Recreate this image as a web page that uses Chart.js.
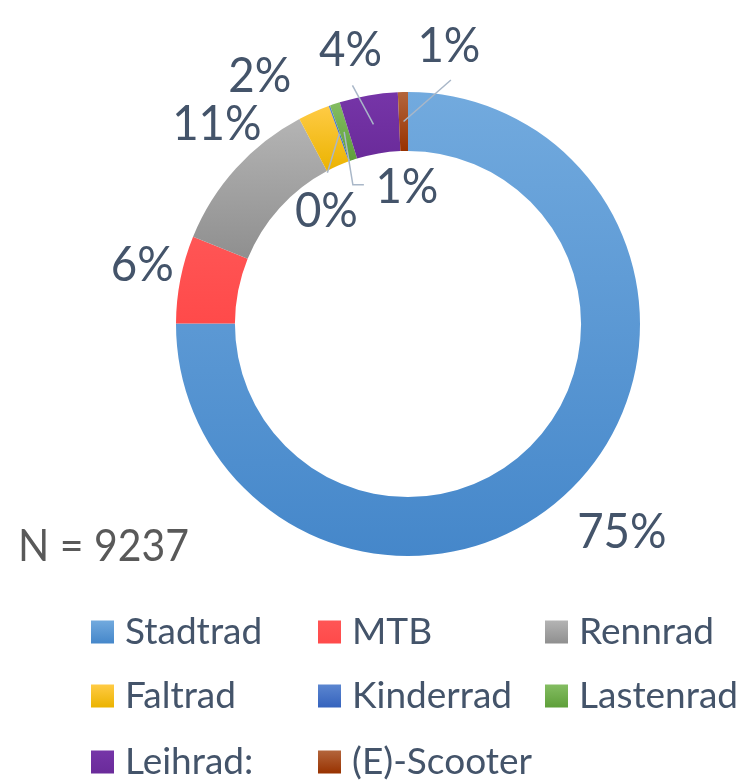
<!DOCTYPE html>
<html>
<head>
<meta charset="utf-8">
<script src="https://cdn.jsdelivr.net/npm/chart.js@4.4.1/dist/chart.umd.min.js"></script>
<style>
  html, body { margin: 0; padding: 0; background: #fff; }
  #wrap { width: 738px; height: 783px; position: relative; }
</style>
</head>
<body>
<div id="wrap"><canvas id="bikeChart" width="738" height="783"></canvas></div>
<script>
// Data
const categories = ['Stadtrad', 'MTB', 'Rennrad', 'Faltrad', 'Kinderrad', 'Lastenrad', 'Leihrad:', '(E)-Scooter'];
const shares = [75.0, 6.1, 11.1, 2.2, 0.1, 0.7, 4.05, 0.7];
const percentLabels = ['75%', '6%', '11%', '2%', '0%', '1%', '4%', '1%'];
const sampleNote = 'N = 9237';

// Office-like gradient colours (top -> bottom)
const topColors = ['#72aade', '#ff5555', '#b4b4b4', '#ffcb45', '#5b86d0', '#84bd62', '#7635a8', '#b3653c'];
const bottomColors = ['#4587ca', '#ff4a4a', '#8f8f8f', '#ebb300', '#3563bd', '#5e9f39', '#6a2b9a', '#983200'];

const TEXT_COLOR = '#44546a';
const LEADER_COLOR = '#a9b7c8';
const FONT = 'Lato, "Open Sans", sans-serif';
const CUTOUT = 0.746;

/**
 * Vertical gradient spanning the slice's own height
 */
function sliceGradient(context) {
  const chart = context.chart;
  const area = chart.chartArea;
  const i = context.dataIndex;
  if (!area) return bottomColors[i];

  const total = shares.reduce((a, b) => a + b, 0);
  let before = 0;
  for (let k = 0; k < i; k++) before += shares[k];
  const a0 = before / total * 2 * Math.PI;
  const a1 = (before + shares[i]) / total * 2 * Math.PI;

  const cy = (area.top + area.bottom) / 2;
  const R = Math.min(area.width, area.height) / 2;
  let yMin = Infinity, yMax = -Infinity;
  for (let s = 0; s <= 36; s++) {
    const a = a0 + (a1 - a0) * s / 36;
    [R, R * CUTOUT].forEach(r => {
      const y = cy - r * Math.cos(a);
      yMin = Math.min(yMin, y);
      yMax = Math.max(yMax, y);
    });
  }
  if (yMax - yMin < 2) yMax = yMin + 2;
  const g = chart.ctx.createLinearGradient(0, yMin, 0, yMax);
  g.addColorStop(0, topColors[i]);
  g.addColorStop(1, bottomColors[i]);
  return g;
}

// Draw text squeezed horizontally (Calibri is narrower than Lato)
function drawText(ctx, text, x, y, size, squeeze, align) {
  ctx.save();
  ctx.font = size + 'px ' + FONT;
  ctx.textAlign = align;
  ctx.textBaseline = 'middle';
  ctx.translate(x, y);
  ctx.scale(squeeze, 1);
  ctx.fillText(text, 0, 0);
  ctx.restore();
}

// Where each percent label sits, relative to the outer mid point of its slice
const labelOffsets = [[50, 44], [-38, -14], [-19, -44], [-54, -35], [-3, 106], [72, 84], [-18, -45], [46, -46]];
// Leader lines: start point relative to label centre, optional elbow
const leaders = {
  4: { from: [1, -39] },
  5: { from: [-43, -3], elbow: [-54, -3] },
  6: { from: [2, 35] },
  7: { from: [2, 34] }
};

/**
 * Percent labels with leader lines
 */
const sliceLabels = {
  id: 'sliceLabels',
  afterDatasetsDraw(chart) {
    const ctx = chart.ctx;
    const arcs = chart.getDatasetMeta(0).data;
    ctx.save();
    arcs.forEach((arc, i) => {
      const mid = (arc.startAngle + arc.endAngle) / 2;
      const ox = arc.x + arc.outerRadius * Math.cos(mid);
      const oy = arc.y + arc.outerRadius * Math.sin(mid);
      const ringR = (arc.outerRadius + arc.innerRadius) / 2;
      const rx = arc.x + ringR * Math.cos(mid);
      const ry = arc.y + ringR * Math.sin(mid);
      const lx = ox + labelOffsets[i][0];
      const ly = oy + labelOffsets[i][1];

      const leader = leaders[i];
      if (leader) {
        ctx.strokeStyle = LEADER_COLOR;
        ctx.lineWidth = 1.5;
        ctx.beginPath();
        ctx.moveTo(lx + leader.from[0], ly + leader.from[1]);
        if (leader.elbow) ctx.lineTo(lx + leader.elbow[0], ly + leader.elbow[1]);
        ctx.lineTo(rx, ry);
        ctx.stroke();
      }

      ctx.fillStyle = TEXT_COLOR;
      drawText(ctx, percentLabels[i], lx, ly, 48, 0.95, 'center');
    });
    ctx.restore();
  }
};

/**
 * Three-column legend plus sample size note
 */
const gridLegend = {
  id: 'gridLegend',
  afterDraw(chart) {
    const ctx = chart.ctx;
    const cols = [91, 318, 545];
    const rows = [632, 696, 762];
    const box = 23;
    ctx.save();
    categories.forEach((name, i) => {
      const x = cols[i % 3];
      const y = rows[Math.floor(i / 3)];
      const g = ctx.createLinearGradient(0, y - box / 2, 0, y + box / 2);
      g.addColorStop(0, topColors[i]);
      g.addColorStop(1, bottomColors[i]);
      ctx.fillStyle = g;
      ctx.fillRect(x, y - box / 2, box, box);
      ctx.fillStyle = TEXT_COLOR;
      drawText(ctx, name, x + 34, y, 37, 1, 'left');
    });

    ctx.fillStyle = '#595959';
    drawText(ctx, sampleNote, 18, 546, 45, 0.91, 'left');
    ctx.restore();
  }
};

new Chart(document.getElementById('bikeChart'), {
  type: 'doughnut',
  data: {
    labels: categories,
    datasets: [{
      data: shares,
      backgroundColor: sliceGradient,
      borderWidth: 0
    }]
  },
  options: {
    responsive: false,
    animation: false,
    cutout: (CUTOUT * 100) + '%',
    layout: { padding: { left: 176, right: 98, top: 92, bottom: 227 } },
    events: [],
    plugins: {
      legend: { display: false },
      tooltip: { enabled: false }
    }
  },
  plugins: [sliceLabels, gridLegend]
});
</script>
</body>
</html>
